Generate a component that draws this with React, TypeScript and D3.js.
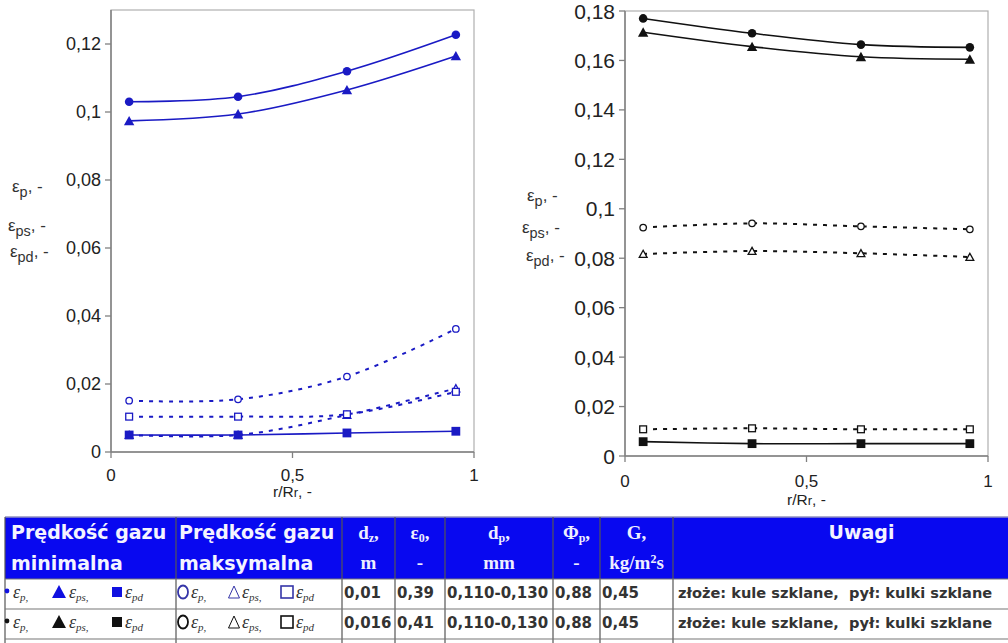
import React from 'react'
import * as d3 from 'd3'

// położenie promieniowe r/Rr
const rPos = [0.05, 0.35, 0.65, 0.95]

// wykres lewy (niebieski) – złoże 0,01 m
const minEp1 = [0.103, 0.1045, 0.112, 0.1227]
const minEps1 = [0.0974, 0.0994, 0.1065, 0.1165]
const minEpd1 = [0.005, 0.005, 0.0056, 0.0061]
const maxEp1 = [0.0151, 0.0155, 0.0222, 0.0362]
const maxEps1 = [0.005, 0.005, 0.0109, 0.0187]
const maxEpd1 = [0.0104, 0.0104, 0.0111, 0.0177]

// wykres prawy (czarny) – złoże 0,016 m
const minEp2 = [0.177, 0.171, 0.1664, 0.1653]
const minEps2 = [0.1714, 0.1656, 0.1615, 0.1605]
const minEpd2 = [0.0058, 0.005, 0.005, 0.005]
const maxEp2 = [0.0924, 0.0941, 0.0929, 0.0917]
const maxEps2 = [0.0817, 0.0829, 0.082, 0.0805]
const maxEpd2 = [0.0108, 0.0112, 0.0108, 0.0108]

const leftTicks = [0, 0.02, 0.04, 0.06, 0.08, 0.1, 0.12]
const rightTicks = [0, 0.02, 0.04, 0.06, 0.08, 0.1, 0.12, 0.14, 0.16, 0.18]
const xTicks = [0, 0.5, 1]

// tabela
const tableRows = [
  { dz: '0,01', e0: '0,39', dp: '0,110-0,130', phi: '0,88', G: '0,45', note: 'złoże: kule szklane,  pył: kulki szklane' },
  { dz: '0,016', e0: '0,41', dp: '0,110-0,130', phi: '0,88', G: '0,45', note: 'złoże: kule szklane,  pył: kulki szklane' },
]

const BLUE = '#1a1ac4'
const FONT = '"Liberation Sans", Arial, sans-serif'
const fmt = (v: number) => String(v).replace('.', ',')

type Shape = 'circle' | 'triangle' | 'square'

function Marker({ shape, filled, x, y, color, big }: { shape: Shape; filled: boolean; x: number; y: number; color: string; big?: boolean }) {
  const fill = filled ? color : '#fff'
  const sw = filled ? 0 : 1.3
  const s = big ? 1 : 0.85
  if (shape === 'circle') return <circle cx={x} cy={y} r={(filled ? 4.3 : 3.8) * s} fill={fill} stroke={color} strokeWidth={sw} />
  if (shape === 'square') {
    const h = (filled ? 4.4 : 4) * s
    return <rect x={x - h} y={y - h} width={h * 2} height={h * 2} fill={fill} stroke={color} strokeWidth={sw} />
  }
  const w = (filled ? 5.2 : 4.6) * s
  const pts = `${x - w},${y + w * 0.85} ${x + w},${y + w * 0.85} ${x},${y - w * 0.95}`
  return <polygon points={pts} fill={fill} stroke={color} strokeWidth={sw} />
}

function Eps({ x, y, sub, size = 17 }: { x: number; y: number; sub: string; size?: number }) {
  return (
    <text x={x} y={y} fontFamily={FONT} fontSize={size} fill="#333">
      ε<tspan fontSize={size * 0.85} dy={size * 0.3}>{sub}</tspan><tspan dy={-size * 0.3}>, -</tspan>
    </text>
  )
}

interface PanelProps {
  x0: number; x1: number; y0: number; y1: number
  yMax: number; ticks: number[]; color: string
  series: { data: number[]; shape: Shape; filled: boolean }[]
  xLabY: number; tickLabY: number; yFont: number
  labX: number[]; labY: number[]
}

function Panel({ x0, x1, y0, y1, yMax, ticks, color, series, xLabY, tickLabY, yFont, labX, labY }: PanelProps) {
  const x = d3.scaleLinear().domain([0, 1]).range([x0, x1])
  const y = d3.scaleLinear().domain([0, yMax]).range([y1, y0])
  const line = d3.line<number>()
    .x((_, i) => x(rPos[i]))
    .y(d => y(d))
    .curve(d3.curveCatmullRom.alpha(0.5))
  const dashed = series.filter(s => !s.filled)
  const solid = series.filter(s => s.filled)
  return (
    <g>
      <rect x={x0} y={y0} width={x1 - x0} height={y1 - y0} fill="#fff" stroke="#b0b0b0" strokeWidth={1.2} />
      <line x1={x0} x2={x0} y1={y0} y2={y1} stroke="#808080" strokeWidth={1.5} />
      <line x1={x0} x2={x1} y1={y1} y2={y1} stroke="#808080" strokeWidth={1.5} />
      {ticks.map(t => (
        <g key={t}>
          <line x1={x0 - 6} x2={x0} y1={y(t)} y2={y(t)} stroke="#808080" strokeWidth={1.3} />
          <text x={x0 - 10} y={y(t) + yFont * 0.36} textAnchor="end" fontFamily={FONT} fontSize={yFont} fill="#222">{fmt(t)}</text>
        </g>
      ))}
      {xTicks.map(t => (
        <g key={t}>
          <line x1={x(t)} x2={x(t)} y1={y1} y2={y1 + 6} stroke="#808080" strokeWidth={1.3} />
          <text x={x(t)} y={tickLabY} textAnchor="middle" fontFamily={FONT} fontSize={17} fill="#222">{fmt(t)}</text>
        </g>
      ))}
      <text x={x(0.5)} y={xLabY} textAnchor="middle" fontFamily={FONT} fontSize={15.5} fill="#222">
        r/R<tspan fontSize={13}>r</tspan>, -
      </text>
      <Eps x={labX[0]} y={labY[0]} sub="p" />
      <Eps x={labX[1]} y={labY[1]} sub="ps" />
      <Eps x={labX[2]} y={labY[2]} sub="pd" />
      {dashed.map((s, i) => (
        <path key={'d' + i} d={line(s.data) ?? ''} fill="none" stroke={color} strokeWidth={2} strokeDasharray="4,6" />
      ))}
      {dashed.map((s, i) => s.data.map((v, j) => (
        <Marker key={`dm${i}-${j}`} shape={s.shape} filled={false} x={x(rPos[j])} y={y(v)} color={color} />
      )))}
      {solid.map((s, i) => (
        <path key={'s' + i} d={line(s.data) ?? ''} fill="none" stroke={color} strokeWidth={1.6} />
      ))}
      {solid.map((s, i) => s.data.map((v, j) => (
        <Marker key={`sm${i}-${j}`} shape={s.shape} filled x={x(rPos[j])} y={y(v)} color={color} big />
      )))}
    </g>
  )
}

function LegendCell({ x, y, color, filled }: { x: number; y: number; color: string; filled: boolean }) {
  const items: { shape: Shape; sub: string; dx: number; tx: number }[] = filled
    ? [{ shape: 'circle', sub: 'p,', dx: 0, tx: 6 }, { shape: 'triangle', sub: 'ps,', dx: 52, tx: 62 }, { shape: 'square', sub: 'pd', dx: 110, tx: 118 }]
    : [{ shape: 'circle', sub: 'p,', dx: 0, tx: 8 }, { shape: 'triangle', sub: 'ps,', dx: 51, tx: 59 }, { shape: 'square', sub: 'pd', dx: 104, tx: 113 }]
  return (
    <g>
      {items.map((it, i) => (
        <g key={i}>
          {filled && it.shape === 'circle'
            ? <circle cx={x + it.dx} cy={y - 7} r={2.4} fill={color} />
            : filled && it.shape === 'triangle'
              ? <polygon points={`${x + it.dx - 7},${y} ${x + it.dx + 7},${y} ${x + it.dx},${y - 13}`} fill={color} />
              : filled
                ? <rect x={x + it.dx - 5} y={y - 11} width={10} height={10} fill={color} />
                : it.shape === 'circle'
                  ? <ellipse cx={x + it.dx} cy={y - 6} rx={5} ry={6.5} fill="none" stroke={color} strokeWidth={1.8} />
                  : it.shape === 'triangle'
                    ? <polygon points={`${x + it.dx - 5.5},${y} ${x + it.dx + 5.5},${y} ${x + it.dx},${y - 12}`} fill="none" stroke={color} strokeWidth={1} />
                    : <rect x={x + it.dx - 6} y={y - 12} width={12} height={12} fill="none" stroke={color} strokeWidth={1.6} />}
          <text x={x + it.tx} y={y} fontFamily='"Liberation Serif", serif' fontStyle="italic" fontSize={18} fill="#333">
            ε<tspan fontSize={11} dy={3}>{it.sub}</tspan>
          </text>
        </g>
      ))}
    </g>
  )
}

export default function App() {
  const leftSeries = [
    { data: maxEp1, shape: 'circle' as Shape, filled: false },
    { data: maxEps1, shape: 'triangle' as Shape, filled: false },
    { data: maxEpd1, shape: 'square' as Shape, filled: false },
    { data: minEp1, shape: 'circle' as Shape, filled: true },
    { data: minEps1, shape: 'triangle' as Shape, filled: true },
    { data: minEpd1, shape: 'square' as Shape, filled: true },
  ]
  const rightSeries = [
    { data: maxEp2, shape: 'circle' as Shape, filled: false },
    { data: maxEps2, shape: 'triangle' as Shape, filled: false },
    { data: maxEpd2, shape: 'square' as Shape, filled: false },
    { data: minEp2, shape: 'circle' as Shape, filled: true },
    { data: minEps2, shape: 'triangle' as Shape, filled: true },
    { data: minEpd2, shape: 'square' as Shape, filled: true },
  ]

  // kolumny tabeli
  const cols = [5, 176, 342, 395, 445, 553, 600, 673, 1030]
  const tTop = 517, hBot = 579, rowH = 30
  const HEAD = '#0808f0'
  const SANS = '"DejaVu Sans", Verdana, sans-serif'
  const SERIF = '"Liberation Serif", "Times New Roman", serif'
  const cx = (i: number) => (cols[i] + cols[i + 1]) / 2

  return (
    <svg width={1008} height={643} style={{ position: 'absolute', left: 0, top: 0, background: '#fff' }}>
      <Panel x0={111} x1={474} y0={10} y1={452} yMax={0.13} ticks={leftTicks} color={BLUE} yFont={18}
        series={leftSeries} tickLabY={481} xLabY={497} labX={[12, 8, 10]} labY={[192, 231, 257]} />
      <Panel x0={625} x1={988} y0={11} y1={456} yMax={0.18} ticks={rightTicks} color="#111" yFont={21}
        series={rightSeries} tickLabY={487} xLabY={505} labX={[527, 522, 526]} labY={[201, 233, 261]} />

      {/* tabela */}
      <rect x={cols[0]} y={tTop} width={cols[8] - cols[0]} height={hBot - tTop} fill={HEAD} />
      <line x1={cols[0]} x2={1008} y1={tTop} y2={tTop} stroke="#9090c0" strokeWidth={1.5} />
      {cols.slice(1, 8).map(c => (
        <line key={c} x1={c} x2={c} y1={tTop} y2={643} stroke="#555" strokeWidth={1.2} />
      ))}
      <line x1={cols[0]} x2={cols[0]} y1={tTop} y2={643} stroke="#555" strokeWidth={1.2} />
      {[hBot, hBot + rowH, hBot + 2 * rowH].map(yy => (
        <line key={yy} x1={cols[0]} x2={1008} y1={yy} y2={yy} stroke="#777" strokeWidth={1.2} />
      ))}
      <g fontFamily={SANS} fontWeight="bold" fontSize={19} fill="#f4f4ff">
        <text x={11} y={539}>Prędkość gazu</text>
        <text x={11} y={570}>minimalna</text>
        <text x={179} y={539}>Prędkość gazu</text>
        <text x={179} y={570}>maksymalna</text>
        <text x={cx(7) + 10} y={539} textAnchor="middle">Uwagi</text>
      </g>
      <g fontFamily={SERIF} fontWeight="bold" fontSize={19} fill="#eef" textAnchor="middle">
        <text x={cx(2)} y={539}>d<tspan fontSize={12} dy={3}>z</tspan><tspan dy={-3}>,</tspan></text>
        <text x={cx(2)} y={569}>m</text>
        <text x={cx(3)} y={539}>ε<tspan fontSize={12} dy={3}>0</tspan><tspan dy={-3}>,</tspan></text>
        <text x={cx(3)} y={569}>-</text>
        <text x={cx(4)} y={539}>d<tspan fontSize={12} dy={3}>p</tspan><tspan dy={-3}>,</tspan></text>
        <text x={cx(4)} y={569}>mm</text>
        <text x={cx(5)} y={539}>Φ<tspan fontSize={12} dy={3}>p</tspan><tspan dy={-3}>,</tspan></text>
        <text x={cx(5)} y={569}>-</text>
        <text x={cx(6)} y={539}>G,</text>
        <text x={cx(6)} y={569}>kg/m<tspan fontSize={12} dy={-6}>2</tspan><tspan dy={6}>s</tspan></text>
      </g>
      {tableRows.map((r, i) => {
        const by = hBot + 19 + i * rowH
        const color = i === 0 ? '#1010e0' : '#111'
        return (
          <g key={i}>
            <LegendCell x={7} y={by} color={color} filled />
            <LegendCell x={183} y={by} color={i === 0 ? '#3535a8' : '#111'} filled={false} />
            <g fontFamily={SANS} fontWeight="bold" fontSize={15} fill="#333">
              <text x={cols[2] + 2} y={by}>{r.dz}</text>
              <text x={cols[3] + 2} y={by}>{r.e0}</text>
              <text x={cols[4] + 2} y={by}>{r.dp}</text>
              <text x={cols[5] + 2} y={by}>{r.phi}</text>
              <text x={cols[6] + 2} y={by}>{r.G}</text>
              <text x={cols[7] + 5} y={by} fontSize={14.6} style={{ whiteSpace: 'pre' }}>{r.note}</text>
            </g>
          </g>
        )
      })}
    </svg>
  )
}
